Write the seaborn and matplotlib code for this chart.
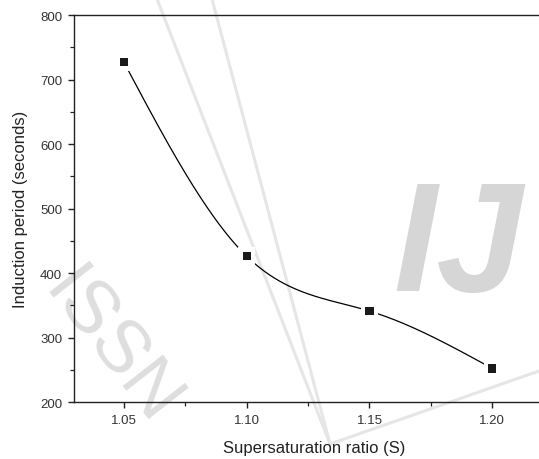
import numpy as np
import pandas as pd
import matplotlib
matplotlib.use("Agg")
import matplotlib.pyplot as plt
from matplotlib.ticker import MultipleLocator
import seaborn as sns

# Measured induction periods versus supersaturation ratio
supersaturation = [1.05, 1.10, 1.15, 1.20]
induction_period = [727, 426, 341, 252]

x_ticks = [1.05, 1.10, 1.15, 1.20]
x_tick_labels = ["1.05", "1.10", "1.15", "1.20"]
y_ticks = [200, 300, 400, 500, 600, 700, 800]


def natural_cubic_spline(x, y, n=300):
    """Smooth connecting curve through the measured points."""
    x = np.asarray(x, float)
    y = np.asarray(y, float)
    k = len(x)
    h = np.diff(x)
    A = np.zeros((k, k))
    b = np.zeros(k)
    A[0, 0] = A[-1, -1] = 1.0
    for i in range(1, k - 1):
        A[i, i - 1] = h[i - 1]
        A[i, i] = 2 * (h[i - 1] + h[i])
        A[i, i + 1] = h[i]
        b[i] = 6 * ((y[i + 1] - y[i]) / h[i] - (y[i] - y[i - 1]) / h[i - 1])
    m = np.linalg.solve(A, b)
    xs = np.linspace(x[0], x[-1], n)
    idx = np.clip(np.searchsorted(x, xs) - 1, 0, k - 2)
    x0, x1 = x[idx], x[idx + 1]
    hh = x1 - x0
    t0, t1 = x1 - xs, xs - x0
    ys = (m[idx] * t0**3 + m[idx + 1] * t1**3) / (6 * hh) \
        + (y[idx] / hh - m[idx] * hh / 6) * t0 \
        + (y[idx + 1] / hh - m[idx + 1] * hh / 6) * t1
    return xs, ys


sns.set_theme(style="ticks")
plt.rcParams["font.family"] = ["Liberation Sans", "DejaVu Sans"]

fig = plt.figure(figsize=(5.39, 4.60), dpi=100)
ax = fig.add_axes([0.1373, 0.1239, 0.890, 0.8413])
ax.set_zorder(2)
ax.set_facecolor("none")

# faint background watermark
wm = "#dedede"
fig.text(0.85, 0.455, "IJ", fontsize=112, fontweight="bold", style="italic",
         color="#d6d6d6", ha="center", va="center", zorder=0)
fig.text(0.205, 0.245, "ISSN", fontsize=54, color=wm, rotation=-52,
         ha="center", va="center", zorder=0)
for (xa, ya), (xb, yb) in [((157, 0), (330, 445)), ((212, 0), (330, 445)),
                           ((330, 445), (539, 372))]:
    fig.add_artist(plt.Line2D([xa / 539, xb / 539], [1 - ya / 460, 1 - yb / 460],
                              color="#e6e6e6", lw=2.2, zorder=0))

sx, sy = natural_cubic_spline(supersaturation, induction_period)
curve = pd.DataFrame({"S": sx, "t": sy})
points = pd.DataFrame({"S": supersaturation, "t": induction_period})

sns.lineplot(data=curve, x="S", y="t", color="black", lw=0.9, ax=ax, zorder=2)
# white halo around each symbol leaves a small gap in the curve
sns.scatterplot(data=points, x="S", y="t", marker="s", s=160, color="white",
                edgecolor="none", ax=ax, zorder=3)
sns.scatterplot(data=points, x="S", y="t", marker="s", s=34, color="#1a1a1a",
                edgecolor="none", ax=ax, zorder=4)

ax.set_xlim(1.0297, 1.225)
ax.set_ylim(200, 800)
ax.set_xticks(x_ticks)
ax.set_xticklabels(x_tick_labels)
ax.set_yticks(y_ticks)
ax.xaxis.set_minor_locator(MultipleLocator(0.025))
ax.yaxis.set_minor_locator(MultipleLocator(50))

for side in ["left", "bottom", "top", "right"]:
    ax.spines[side].set_color("#222222")
    ax.spines[side].set_linewidth(1.0)

ax.tick_params(which="major", direction="out", length=4.5, width=1.0,
               color="#222222", labelsize=9.5, labelcolor="#333333", pad=4)
ax.tick_params(which="minor", direction="out", length=3, width=0.9,
               color="#222222")
ax.tick_params(top=False, right=False, which="both")

ax.set_xlabel("Supersaturation ratio (S)", fontsize=12, color="#222222", labelpad=10)
ax.set_ylabel("Induction period (seconds)", fontsize=12, color="#222222", labelpad=9)

fig.savefig("out.png", dpi=100)
